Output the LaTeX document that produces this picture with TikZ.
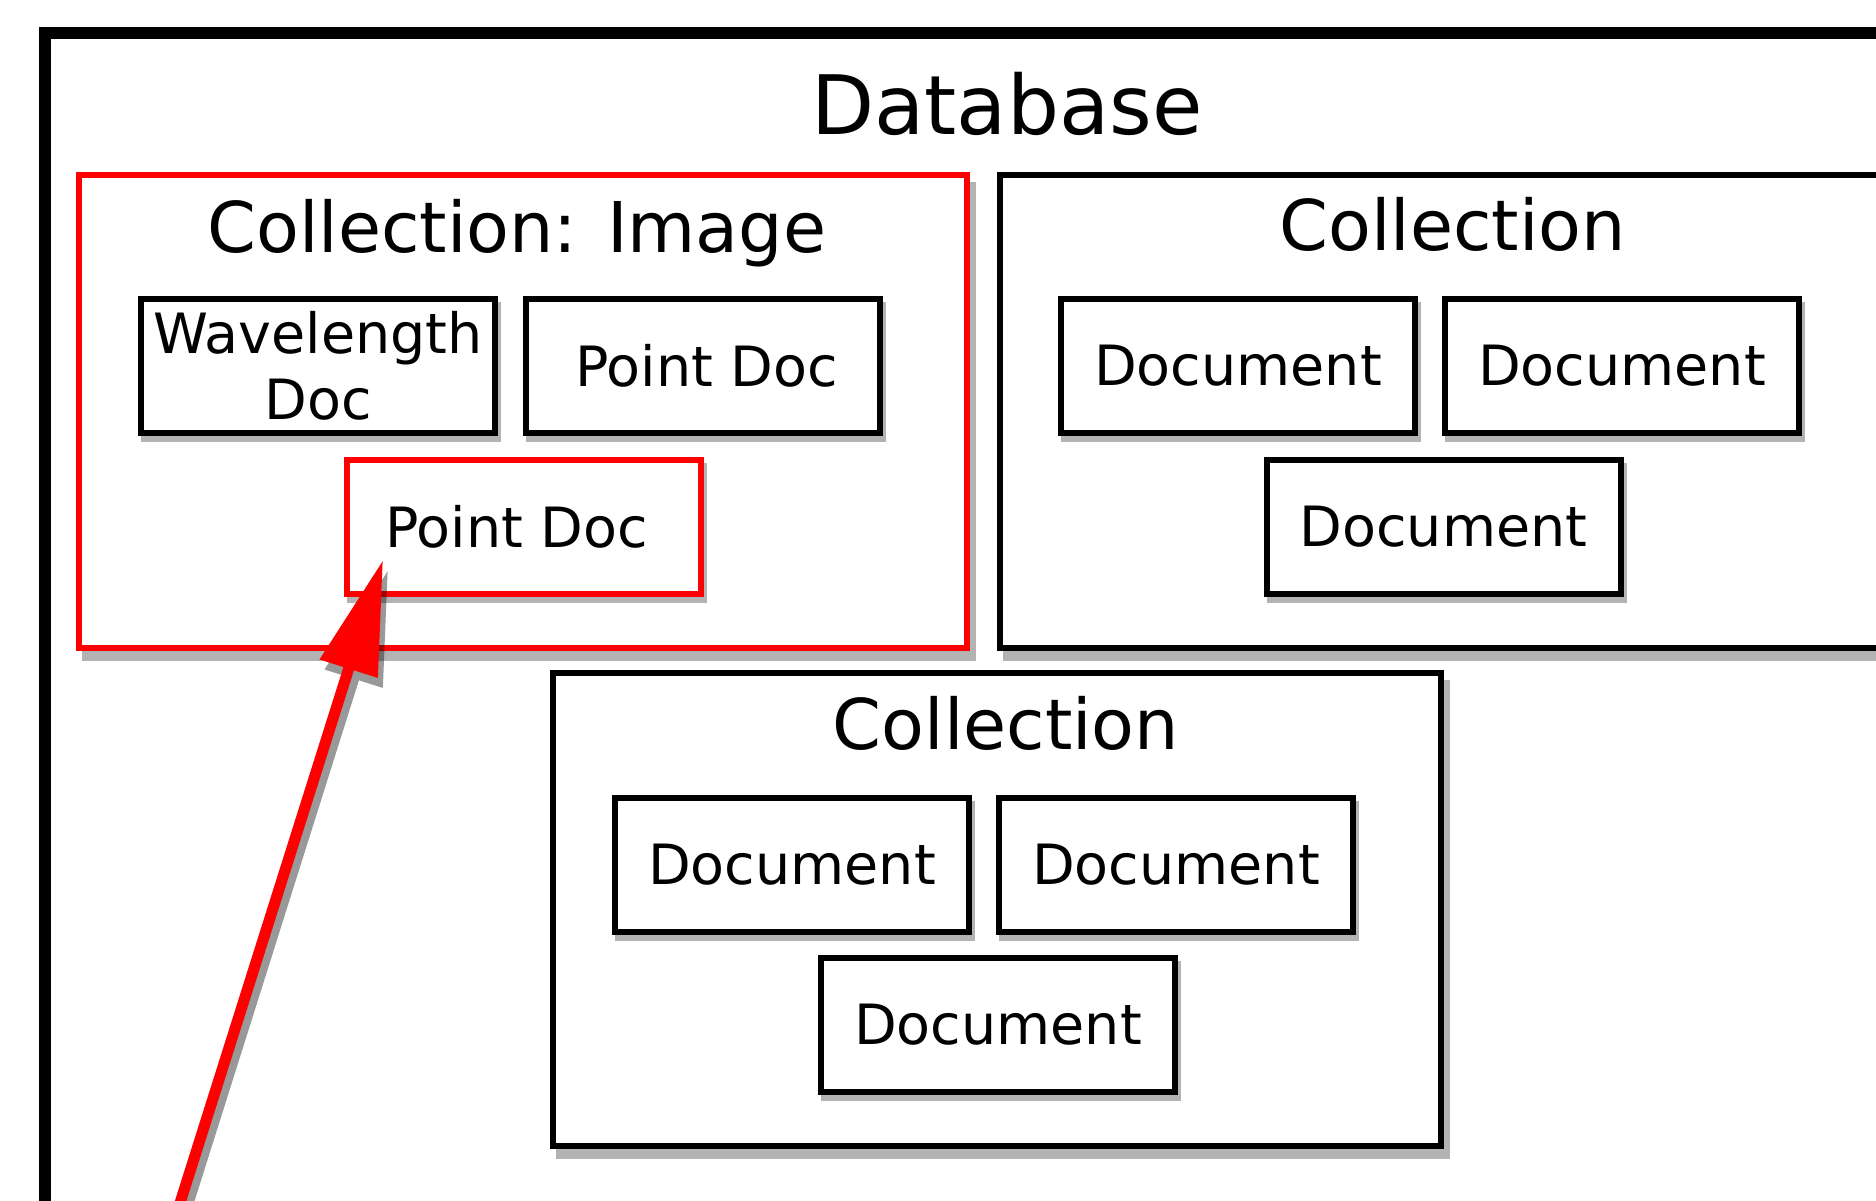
\documentclass[tikz,border=0pt]{standalone}
\usepackage{fontspec}
\setmainfont{DejaVu Sans}
\usetikzlibrary{arrows.meta,shadows}
\definecolor{shadowgray}{HTML}{B3B3B3}
\tikzset{
  boxshadow/.style 2 args={drop shadow={shadow xshift=#1, shadow yshift=-#2, fill=shadowgray,
    draw=shadowgray, line width=6pt, opacity=1}},
  docbox/.style={draw=black, line width=6pt, fill=white, minimum width=354pt, minimum height=134pt,
    inner sep=0pt, align=center, font=\fontsize{55.5}{66}\selectfont, boxshadow={3pt}{6pt}},
  reddoc/.style={docbox, draw=red},
  collbox/.style={draw=black, line width=6pt, fill=white, minimum width=888pt, minimum height=473pt,
    inner sep=0pt, boxshadow={6pt}{10pt}},
  redcoll/.style={collbox, draw=red},
  colltitle/.style={anchor=base, inner sep=0pt, font=\fontsize{70}{80}\selectfont},
  dbtitle/.style={anchor=base, inner sep=0pt, font=\fontsize{82}{96}\selectfont},
  pointer/.style={line width=11pt, -{Triangle[length=114pt,width=58pt]}},
}
\begin{document}
\begin{tikzpicture}[x=1pt,y=-1pt]
\useasboundingbox (0,0) rectangle (1876,1200);
\clip (0,0) rectangle (1876,1200);
\fill[white] (0,0) rectangle (1876,1200);
% Database frame
\draw[line width=12pt] (45,33) rectangle (1990,1320);
\node[dbtitle] (db) at (1007,134) {Database};

% Collection: Image (red)
\node[redcoll] (c1) at (523,411.5) {};
\node[colltitle] (t1) at (517,252) {Collection: Image};
\node[docbox] (wl) at (318,366) {Wavelength\\Doc};
\node[docbox] (pd1) at (702.5,366) {\hspace*{8pt}Point Doc};
\node[reddoc] (pd2) at (523.5,527) {\hspace*{-14pt}Point Doc};

% Collection (right)
\node[collbox] (c2) at (1444,411.5) {};
\node[colltitle] (t2) at (1452.5,250) {Collection};
\node[docbox] (d21) at (1238,366) {Document};
\node[docbox] (d22) at (1622,366) {Document};
\node[docbox] (d23) at (1443.5,527) {Document};

% Collection (bottom)
\node[collbox] (c3) at (997,909) {};
\node[colltitle] (t3) at (1006,749) {Collection};
\node[docbox] (d31) at (792,865) {Document};
\node[docbox] (d32) at (1176,865) {Document};
\node[docbox] (d33) at (998,1025) {Document};

% Pointer arrow
\coordinate (src) at (174,1222);
\coordinate (tip) at (383,560);
\begin{scope}[transparency group, opacity=0.4]
  \draw[pointer, black] ([xshift=5pt,yshift=-10pt]src) -- ([xshift=5pt,yshift=-10pt]tip);
\end{scope}
\draw[pointer, red] (src) -- (tip);
\end{tikzpicture}
\end{document}
